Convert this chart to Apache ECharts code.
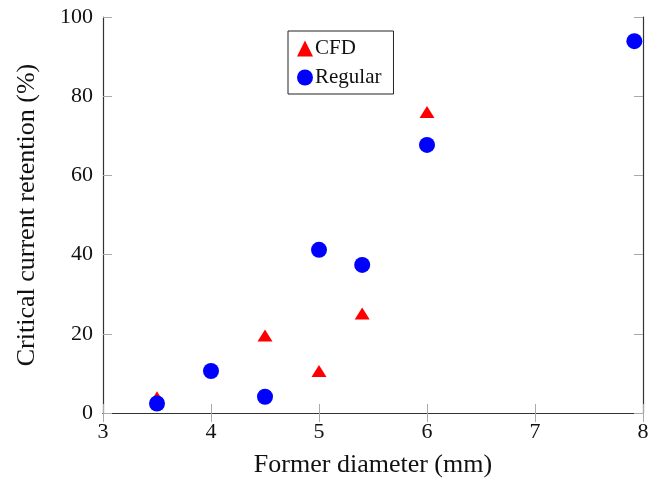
<!DOCTYPE html>
<html><head><meta charset="utf-8">
<script src="https://cdn.jsdelivr.net/npm/echarts@6/dist/echarts.min.js"></script>
<style>html,body{margin:0;padding:0;background:#fff}#c{width:648px;height:482px}</style>
</head><body><div id="c"></div>
<script>
var cfdX = [3.5, 4.5, 5.0, 5.4, 6.0];
var cfdY = [4.0, 19.6, 10.6, 25.1, 76.0];
var regX = [3.5, 4.0, 4.5, 5.0, 5.4, 6.0, 7.92];
var regY = [2.4, 10.6, 4.1, 41.2, 37.4, 67.7, 93.9];
var xTicks = [3, 4, 5, 6, 7, 8];
var yTicks = [0, 20, 40, 60, 80, 100];

var font = 'Liberation Serif';
var chart = echarts.init(document.getElementById('c'), null, {renderer: 'canvas'});
function pairs(xs, ys){ return xs.map(function(x,i){return [x, ys[i]];}); }
var axisLineStyle = {color: '#333', width: 1.2};
var tickStyle = {color: '#aaa', width: 1};
chart.setOption({
  animation: false,
  grid: {left: 103, right: 5, top: 17, bottom: 69, show: false, containLabel: false, outerBoundsMode: 'none'},
  legend: {
    orient: 'vertical', left: 288, top: 31, width: 110,
    borderColor: '#222', borderWidth: 1, backgroundColor: '#fff',
    padding: [7, 12, 6, 9], itemGap: 8, itemWidth: 16, itemHeight: 16,
    textStyle: {fontFamily: font, fontSize: 21, color: '#111', padding: [0,0,0,-3]},
    data: [
      {name: 'CFD', icon: 'triangle', itemStyle: {color: '#ff0000'}},
      {name: 'Regular', icon: 'circle', itemStyle: {color: '#0000ff'}}
    ]
  },
  xAxis: [{
    type: 'value', min: xTicks[0], max: xTicks[xTicks.length-1], interval: 1,
    name: 'Former diameter (mm)', nameLocation: 'middle', nameGap: 39,
    nameTextStyle: {fontFamily: font, fontSize: 26, color: '#111'},
    axisLine: {show: true, lineStyle: axisLineStyle},
    axisTick: {show: true, inside: true, length: 9, lineStyle: tickStyle},
    axisLabel: {fontFamily: font, fontSize: 22, color: '#111', margin: 8},
    splitLine: {show: false}
  }, {
    type: 'value', position: 'top', min: xTicks[0], max: xTicks[xTicks.length-1], interval: 1,
    axisLine: {show: true, lineStyle: axisLineStyle},
    axisTick: {show: true, inside: true, length: 9, lineStyle: tickStyle},
    axisLabel: {show: false}, splitLine: {show: false}
  }],
  yAxis: [{
    type: 'value', min: yTicks[0], max: yTicks[yTicks.length-1], interval: 20,
    name: 'Critical current retention (%)', nameLocation: 'middle', nameGap: 63, nameRotate: 90,
    nameTextStyle: {fontFamily: font, fontSize: 26, color: '#111'},
    axisLine: {show: true, lineStyle: axisLineStyle},
    axisTick: {show: true, inside: true, length: 9, lineStyle: tickStyle},
    axisLabel: {fontFamily: font, fontSize: 22, color: '#111', margin: 10},
    splitLine: {show: false}
  }, {
    type: 'value', position: 'right', min: yTicks[0], max: yTicks[yTicks.length-1], interval: 20,
    axisLine: {show: true, lineStyle: axisLineStyle},
    axisTick: {show: true, inside: true, length: 9, lineStyle: tickStyle},
    axisLabel: {show: false}, splitLine: {show: false}
  }],
  series: [{
    name: 'CFD', type: 'scatter', symbol: 'triangle', symbolSize: [15, 12],
    itemStyle: {color: '#ff0000', opacity: 1}, data: pairs(cfdX, cfdY), z: 2
  }, {
    name: 'Regular', type: 'scatter', symbol: 'circle', symbolSize: 16,
    itemStyle: {color: '#0000ff', opacity: 1}, data: pairs(regX, regY), z: 3
  }]
});
</script></body></html>
